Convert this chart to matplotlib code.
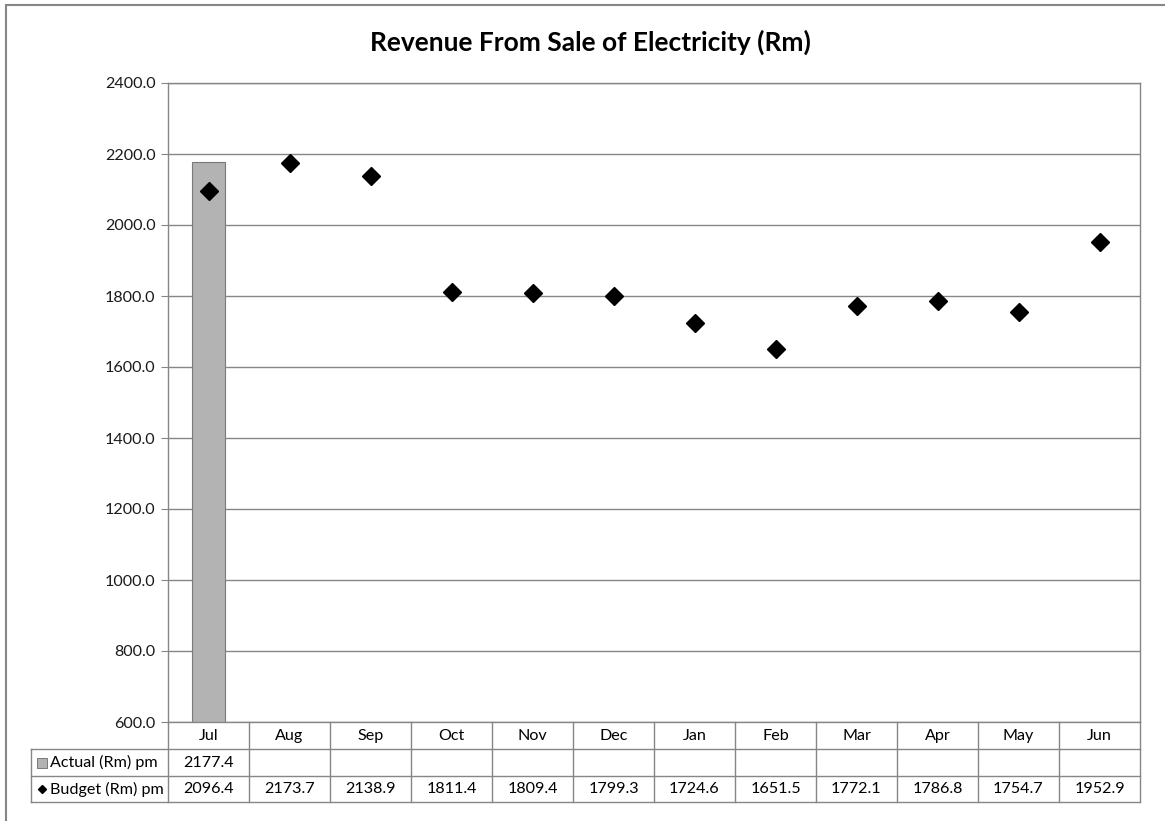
import numpy as np
import matplotlib
matplotlib.use('Agg')
import matplotlib.pyplot as plt
from matplotlib.patches import Rectangle
from matplotlib.transforms import blended_transform_factory

plt.rcParams['font.family'] = ['Lato', 'DejaVu Sans']

months = ['Jul', 'Aug', 'Sep', 'Oct', 'Nov', 'Dec', 'Jan', 'Feb', 'Mar', 'Apr', 'May', 'Jun']
actual = [2177.4]
budget = [2096.4, 2173.7, 2138.9, 1811.4, 1809.4, 1799.3, 1724.6, 1651.5, 1772.1, 1786.8, 1754.7, 1952.9]
row_labels = ['Actual (Rm) pm', 'Budget (Rm) pm']

W, H = 1165, 821
grid_col = '#868686'
bar_col = '#b3b3b3'
fs = 11.6

fig = plt.figure(figsize=(W / 100, H / 100), dpi=100)
ax = fig.add_axes([168 / W, 1 - 722 / H, 972 / W, 639 / H])

x = np.arange(len(months))
ax.bar(x[:len(actual)], actual, width=0.4, color=bar_col, edgecolor='#7a7a7a', lw=0.8, zorder=2)
ax.plot(x, budget, 'D', color='black', ms=8.7, ls='none', zorder=3)

ax.set_xlim(-0.5, len(months) - 0.5)
ax.set_ylim(600, 2400)
ax.set_yticks(np.arange(600, 2401, 200))
ax.set_yticklabels(['%.1f' % v for v in np.arange(600, 2401, 200)], fontsize=fs, color='#1a1a1a')
ax.set_xticks([])
ax.tick_params(axis='y', length=5, color=grid_col, pad=4)
ax.yaxis.grid(True, color=grid_col, lw=1)
ax.set_axisbelow(True)
for s in ax.spines.values():
    s.set_color(grid_col)
    s.set_linewidth(1)

fig.text(590 / W, 1 - 42 / H, 'Revenue From Sale of Electricity (Rm)', ha='center', va='center',
         fontsize=19, fontweight='bold')

# data table under the plot
tr = blended_transform_factory(ax.transData, fig.transFigure)
rows_px = [722, 749, 776, 802]
fy = [1 - p / H for p in rows_px]
edges = np.arange(len(months) + 1) - 0.5
lab_left = 31 / W
for e in edges:
    ax.plot([e, e], [fy[0], fy[3]], color=grid_col, lw=1, transform=tr, clip_on=False)
for y in fy[1:]:
    ax.plot([lab_left, 1140 / W], [y, y], color=grid_col, lw=1, transform=fig.transFigure, clip_on=False)
ax.plot([lab_left, lab_left], [fy[1], fy[3]], color=grid_col, lw=1, transform=fig.transFigure, clip_on=False)

for i, m in enumerate(months):
    ax.text(i, (fy[0] + fy[1]) / 2, m, ha='center', va='center', fontsize=fs, transform=tr)
for i, v in enumerate(actual):
    ax.text(i, (fy[1] + fy[2]) / 2, '%.1f' % v, ha='center', va='center', fontsize=fs, transform=tr)
for i, v in enumerate(budget):
    ax.text(i, (fy[2] + fy[3]) / 2, '%.1f' % v, ha='center', va='center', fontsize=fs, transform=tr)

# legend keys in the row labels
ax.plot([42 / W], [(fy[1] + fy[2]) / 2], 's', ms=6.6, color=bar_col, mec='#7a7a7a', mew=0.7,
        transform=fig.transFigure, clip_on=False)
ax.plot([42 / W], [(fy[2] + fy[3]) / 2], 'D', ms=4.1, color='black',
        transform=fig.transFigure, clip_on=False)
for r, lab in enumerate(row_labels):
    fig.text(50 / W, (fy[r + 1] + fy[r + 2]) / 2, lab, ha='left', va='center', fontsize=fs)

# chart area border
fig.add_artist(Rectangle((6 / W, -0.1), 1.1, 1.1 - 5 / H, transform=fig.transFigure,
                         fill=False, edgecolor=grid_col, lw=1.5))

fig.savefig('out.png', dpi=100, facecolor='white')
